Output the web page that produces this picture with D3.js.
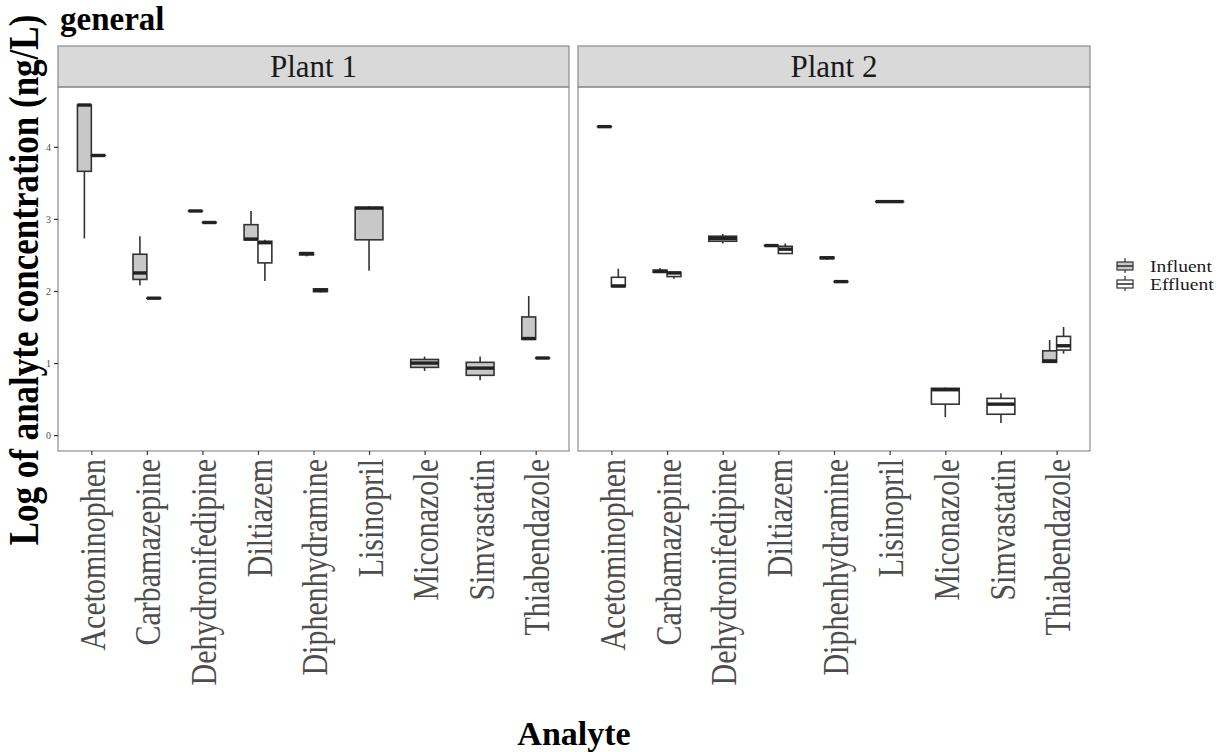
<!DOCTYPE html>
<html>
<head>
<meta charset="utf-8" />
<title>general - boxplots by plant</title>
<script src="https://d3js.org/d3.v7.min.js"></script>
<style>
  body { margin: 0; background: #fff; }
  svg text { font-family: "Liberation Serif", "Times New Roman", serif; }
</style>
</head>
<body>
<div id="chart"></div>
<script>
// analytes on the x axis
const categories = ["Acetominophen", "Carbamazepine", "Dehydronifedipine", "Diltiazem",
  "Diphenhydramine", "Lisinopril", "Miconazole", "Simvastatin", "Thiabendazole"];
const plants = ["Plant 1", "Plant 2"];
const groups = ["Influent", "Effluent"];
const yTicks = [0, 1, 2, 3, 4];

// box stats per analyte: [lower whisker, q1, median, q3, upper whisker], null = no data
const plant1Influent = [
  [2.73, 3.66, 4.58, 4.58, 4.58],
  [2.08, 2.16, 2.25, 2.51, 2.76],
  [3.11, 3.11, 3.11, 3.11, 3.11],
  [2.71, 2.71, 2.72, 2.92, 3.11],
  [2.48, 2.50, 2.52, 2.53, 2.53],
  [2.28, 2.71, 3.15, 3.16, 3.18],
  [0.89, 0.94, 1.00, 1.05, 1.09],
  [0.76, 0.83, 0.93, 1.01, 1.09],
  [1.33, 1.33, 1.34, 1.64, 1.93]
];
const plant1Effluent = [
  [3.88, 3.88, 3.88, 3.88, 3.88],
  [1.90, 1.90, 1.90, 1.90, 1.90],
  [2.95, 2.95, 2.95, 2.95, 2.95],
  [2.14, 2.39, 2.67, 2.69, 2.71],
  [1.98, 1.99, 2.01, 2.03, 2.04],
  null,
  null,
  null,
  [1.07, 1.07, 1.07, 1.07, 1.07]
];
const plant2Influent = [
  [4.28, 4.28, 4.28, 4.28, 4.28],
  [2.25, 2.26, 2.27, 2.29, 2.32],
  [2.66, 2.69, 2.73, 2.76, 2.79],
  [2.63, 2.63, 2.63, 2.63, 2.63],
  [2.43, 2.45, 2.46, 2.47, 2.47],
  [3.24, 3.24, 3.24, 3.24, 3.24],
  null,
  null,
  [1.00, 1.01, 1.03, 1.17, 1.32]
];
const plant2Effluent = [
  [2.06, 2.06, 2.07, 2.19, 2.31],
  [2.17, 2.20, 2.25, 2.26, 2.27],
  null,
  [2.52, 2.52, 2.58, 2.62, 2.66],
  [2.13, 2.13, 2.13, 2.13, 2.13],
  null,
  [0.25, 0.43, 0.63, 0.65, 0.66],
  [0.17, 0.29, 0.43, 0.51, 0.58],
  [1.13, 1.18, 1.24, 1.37, 1.50]
];

const seriesByPlant = {
  "Plant 1": { Influent: plant1Influent, Effluent: plant1Effluent },
  "Plant 2": { Influent: plant2Influent, Effluent: plant2Effluent }
};
const fills = { Influent: "#c8c8c8", Effluent: "#ffffff" };

const W = 1226, H = 752;
const panelTop = 87, panelBottom = 451, stripTop = 46;
const panels = [{ name: "Plant 1", x0: 58, x1: 569 }, { name: "Plant 2", x0: 578, x1: 1090 }];

const svg = d3.select("#chart").append("svg")
  .attr("width", W).attr("height", H);

const y = d3.scaleLinear().domain([-0.22, 4.83]).range([panelBottom, panelTop]);

panels.forEach((p, pi) => {
  const x = d3.scalePoint().domain(categories).range([p.x0, p.x1]).padding(0.6);
  const step = x.step();
  const dodge = d3.scaleBand().domain(groups).range([-step * 0.25, step * 0.25]);
  const g = svg.append("g");

  // strip
  g.append("rect")
    .attr("x", p.x0).attr("y", stripTop)
    .attr("width", p.x1 - p.x0).attr("height", panelTop - stripTop)
    .attr("fill", "#d9d9d9").attr("stroke", "#8c8c8c").attr("stroke-width", 1.2);
  g.append("text")
    .attr("x", (p.x0 + p.x1) / 2).attr("y", 77)
    .attr("text-anchor", "middle")
    .attr("font-size", 31).attr("fill", "#1a1a1a")
    .text(p.name);

  // boxes
  const boxes = [];
  categories.forEach((c, i) => {
    const series = seriesByPlant[p.name];
    const present = groups.filter(gr => series[gr][i]);
    present.forEach(gr => {
      const s = series[gr][i];
      let cx, bw;
      if (present.length === 1) { cx = x(c); bw = step * 0.5; }
      else { cx = x(c) + dodge(gr) + dodge.bandwidth() / 2; bw = dodge.bandwidth(); }
      boxes.push({ cx, bw, s, gr });
    });
  });

  const bg = g.selectAll("g.box").data(boxes).enter().append("g").attr("class", "box");
  bg.append("line")
    .attr("x1", d => d.cx).attr("x2", d => d.cx)
    .attr("y1", d => y(d.s[4])).attr("y2", d => y(d.s[3]))
    .attr("stroke", "#333").attr("stroke-width", 1.6);
  bg.append("line")
    .attr("x1", d => d.cx).attr("x2", d => d.cx)
    .attr("y1", d => y(d.s[1])).attr("y2", d => y(d.s[0]))
    .attr("stroke", "#333").attr("stroke-width", 1.6);
  bg.append("rect")
    .attr("x", d => d.cx - d.bw / 2).attr("width", d => d.bw)
    .attr("y", d => y(d.s[3])).attr("height", d => Math.max(0.01, y(d.s[1]) - y(d.s[3])))
    .attr("fill", d => fills[d.gr]).attr("stroke", "#333").attr("stroke-width", 1.6);
  bg.append("line")
    .attr("x1", d => d.cx - d.bw / 2).attr("x2", d => d.cx + d.bw / 2)
    .attr("y1", d => y(d.s[2])).attr("y2", d => y(d.s[2]))
    .attr("stroke", "#222").attr("stroke-width", 3.4);

  // panel border
  g.append("rect")
    .attr("x", p.x0).attr("y", panelTop)
    .attr("width", p.x1 - p.x0).attr("height", panelBottom - panelTop)
    .attr("fill", "none").attr("stroke", "#8c8c8c").attr("stroke-width", 1.2);

  // x axis
  const xa = g.append("g").attr("transform", `translate(0,${panelBottom})`)
    .call(d3.axisBottom(x).tickSize(4).tickFormat(""));
  xa.select(".domain").remove();
  xa.selectAll(".tick line").attr("stroke", "#333").attr("stroke-width", 1.2);
  g.selectAll("text.xlab").data(categories).enter().append("text")
    .attr("class", "xlab")
    .attr("transform", d => `translate(${x(d) + 1},${panelBottom + 8}) rotate(-90) scale(1,1.2)`)
    .attr("text-anchor", "end").attr("dy", "0.35em")
    .attr("font-size", 30).attr("fill", "#4d4d4d")
    .text(d => d);

  // y axis on first panel
  if (pi === 0) {
    const ya = g.append("g").attr("transform", `translate(${p.x0},0)`)
      .call(d3.axisLeft(y).tickValues(yTicks).tickSize(4).tickFormat(d3.format("d")));
    ya.select(".domain").remove();
    ya.selectAll(".tick line").attr("stroke", "#333").attr("stroke-width", 1.2);
    ya.selectAll(".tick text")
      .attr("font-family", "Liberation Serif, serif")
      .attr("font-size", 10).attr("fill", "#4d4d4d");
  }
});

// titles
svg.append("text")
  .attr("x", 60).attr("y", 30)
  .attr("font-size", 33).attr("font-weight", "bold")
  .text("general");

svg.append("text")
  .attr("transform", `translate(38,${(panelTop + panelBottom) / 2 + 11}) rotate(-90) scale(1,1.18)`)
  .attr("text-anchor", "middle")
  .attr("font-size", 35).attr("font-weight", "bold")
  .text("Log of analyte concentration (ng/L)");

svg.append("text")
  .attr("x", (58 + 1090) / 2).attr("y", 745)
  .attr("text-anchor", "middle")
  .attr("font-size", 34).attr("font-weight", "bold")
  .text("Analyte");

// legend
const legend = svg.append("g").attr("transform", "translate(1117,258)");
groups.forEach((gr, i) => {
  const lg = legend.append("g").attr("transform", `translate(0,${i * 18})`);
  lg.append("line").attr("x1", 8).attr("x2", 8).attr("y1", 0).attr("y2", 15)
    .attr("stroke", "#333").attr("stroke-width", 1.2);
  lg.append("rect").attr("x", 0).attr("y", 4).attr("width", 16).attr("height", 8)
    .attr("fill", fills[gr]).attr("stroke", "#333").attr("stroke-width", 1.2);
  lg.append("line").attr("x1", 0).attr("x2", 16).attr("y1", 8).attr("y2", 8)
    .attr("stroke", "#333").attr("stroke-width", 1.6);
  lg.append("text")
    .attr("transform", "translate(33,14) scale(1.15,1)")
    .attr("font-size", 17).attr("fill", "#1a1a1a")
    .text(gr);
});
</script>
</body>
</html>
